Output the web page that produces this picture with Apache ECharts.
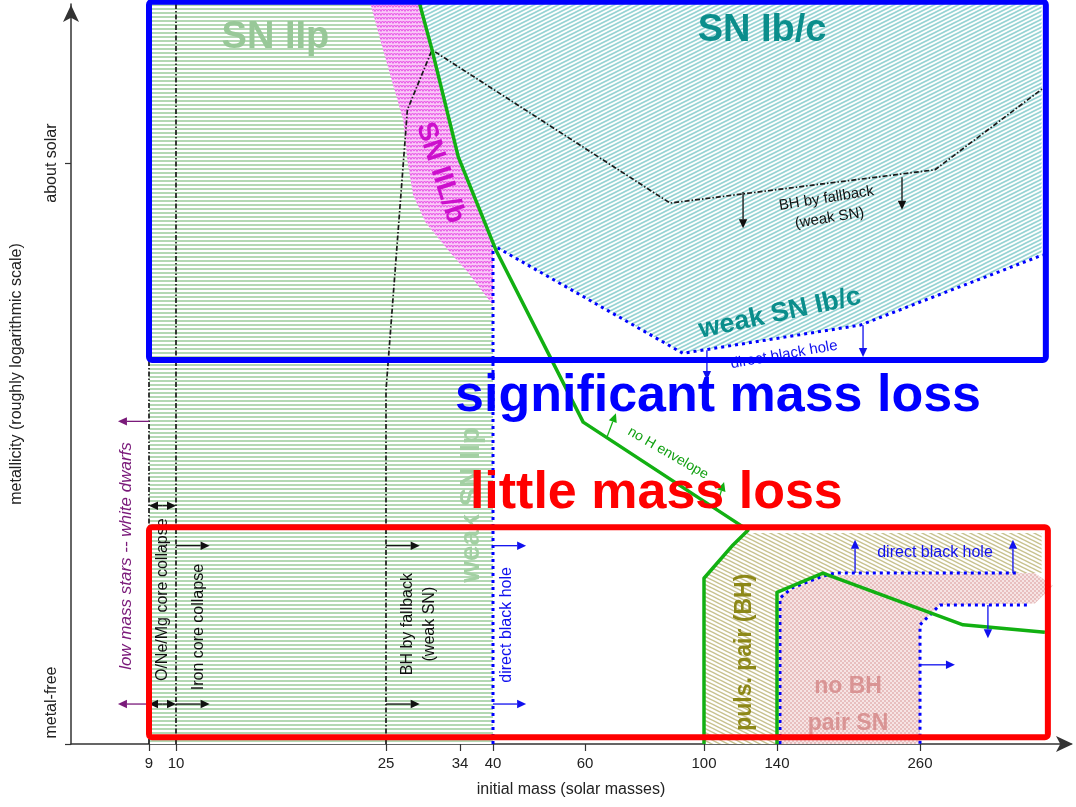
<!DOCTYPE html>
<html>
<head>
<meta charset="utf-8">
<script src="https://cdn.jsdelivr.net/npm/echarts@6/dist/echarts.min.js"></script>
<style>
  html, body { margin: 0; padding: 0; background: #fff; }
  #chart { width: 1076px; height: 807px; }
</style>
</head>
<body>
<div id="chart"></div>
<script>
// ---- Axes -----------------------------------------------------------------
// The mass axis is only roughly logarithmic: each tick mass sits at a fixed
// position on a 0-100 axis scale and masses in between are placed piecewise.
const MASS_TICKS = [9, 10, 25, 34, 40, 60, 100, 140, 260];
const MASS_TICK_POS = [7.8, 10.5, 31.5, 38.9, 42.2, 51.4, 63.3, 70.6, 84.9];
// Metallicity on an arbitrary 0-100 scale
const Z_TICKS = [0, 78.5];
const Z_TICK_LABELS = [{ at: 5.6, text: 'metal-free' }, { at: 78.5, text: 'about solar' }];

// ---- Regions (initial mass, metallicity) ------------------------------------
const SN_IIP_REGION = [[9, 100], [29.1, 100], [30.6, 93.8], [33.8, 79.3], [40, 67.4], [40, 0], [9, 0]];
const SN_IBC_REGION = [[29.1, 100], [362, 100], [362, 66.1], [209.7, 56.6], [92.9, 52.8],
  [40, 67.4], [33.8, 79.3], [30.6, 93.8]];
const SN_IILB_REGION = [[23.9, 100], [24.6, 95.1], [25.7, 89.7], [27.1, 84.3], [27.6, 78.9],
  [28.3, 74.2], [29.8, 70.5], [32.5, 66.8], [35.8, 63.4], [40, 59.3], [40, 67.4],
  [33.8, 79.3], [30.6, 93.8], [29.1, 100]];
const PULS_PAIR_REGION = [[100, 0], [100, 22.4], [115.9, 26.9], [124.1, 28.9], [125.2, 28.5],
  [362, 28.5], [362, 23.1], [178.5, 23.1], [140, 20.5], [140, 0]];
const PAIR_SN_REGION = [[142, 0], [142, 20.1], [178.5, 22.8], [356.4, 23.1], [371.5, 21.4],
  [356.4, 19.0], [276.8, 18.8], [260, 16.1], [260, 0]];

// ---- Boundary lines ---------------------------------------------------------
const NO_H_ENVELOPE_LINE = [[29.1, 100], [30.6, 93.8], [33.8, 79.3], [40.6, 66.8], [59.6, 43.5],
  [124.1, 28.9], [115.9, 26.9], [100, 22.4], [100, 0]];
const PAIR_LINE = [[140, 0], [140, 20.5], [178.5, 23.1], [296.1, 16.1], [364.8, 15.1]];
const DIRECT_BH_LINE = [[40, 0], [40, 67.4], [92.9, 52.8], [209.7, 56.6], [363.1, 66.1]];
const PAIR_TOP_LINE = [[142.5, 0], [142.5, 19.7], [152.6, 21.1], [178.5, 22.7], [188.7, 23.1], [343.5, 23.1]];
const PAIR_BOTTOM_LINE = [[349.7, 18.8], [276.8, 18.8], [260, 16.1], [260, 0]];
const FALLBACK_LINE = [[25, 0], [25, 47.8], [27.6, 85.7], [30.6, 93.8], [88.6, 73.1], [272.6, 77.6], [363.1, 88.6]];
const WD_LIMIT_LINE = [[9, 0], [9, 100]];
const IRON_LIMIT_LINE = [[10, 0], [10, 100]];

// ---- Arrows [from mass, from Z, to mass, to Z] -------------------------------
const BLACK_ARROWS = [
  [121.4, 74.6, 121.4, 69.7], [244.9, 76.6, 244.9, 72.2],
  [10, 26.8, 12.4, 26.8], [10, 5.4, 12.4, 5.4],
  [25, 26.8, 29.1, 26.8], [25, 5.4, 29.1, 5.4],
  [9.5, 32.2, 9, 32.2], [9.5, 32.2, 10, 32.2],
  [9.5, 5.4, 9, 5.4], [9.5, 5.4, 10, 5.4]
];
const PURPLE_ARROWS = [[9, 43.6, 7.85, 43.6], [9, 5.4, 7.85, 5.4]];
const BLUE_ARROWS = [
  [40, 26.8, 47.2, 26.8], [40, 5.4, 47.2, 5.4],
  [101.6, 53.2, 101.6, 49.2], [212.2, 56.6, 212.2, 52.3],
  [205.5, 23.1, 205.5, 27.6], [338, 23.1, 338, 27.6],
  [317, 18.8, 317, 14.3], [260, 10.7, 289.3, 10.7]
];
const GREEN_ARROWS = [[67.4, 41.5, 70.4, 44.7], [106.6, 31.9, 111, 35.4]];

// ---- Mass-loss boxes [mass left, Z bottom, mass right, Z top] ----------------
const MASS_LOSS_BOXES = [
  { box: [9, 51.9, 365.6, 100.3], color: '#0000ff' },
  { box: [9, 0.9, 367.3, 29.3], color: '#ff0000' }
];

// ---- Text ------------------------------------------------------------------
const REGION_LABELS = [
  { text: 'SN IIp', m: 17.1, z: 95.5, kind: 'bigGreen' },
  { text: 'SN Ib/c', m: 131.8, z: 96.4, kind: 'bigTeal' },
  { text: 'SN IIL/b', m: 31.6, z: 77.2, kind: 'magenta' },
  { text: 'weak SN IIp', m: 36, z: 32.3, kind: 'weakIIp' },
  { text: 'weak SN Ib/c', m: 142.5, z: 58.2, kind: 'weakIbc' },
  { text: 'BH by fallback\n(weak SN)', m: 182.8, z: 72.4, kind: 'fallbackTop' },
  { text: 'direct black hole', m: 145.9, z: 52.6, kind: 'dbhSlant' },
  { text: 'no H envelope', m: 87.9, z: 39.3, kind: 'noH' },
  { text: 'low mass stars -- white dwarfs', m: 8.15, z: 25.4, kind: 'wd' },
  { text: 'O/Ne/Mg core collapse', m: 9.52, z: 19.5, kind: 'vertBlack' },
  { text: 'Iron core collapse', m: 11.6, z: 15.8, kind: 'vertBlack' },
  { text: 'BH by fallback\n(weak SN)', m: 29.0, z: 16.2, kind: 'vertBlack' },
  { text: 'direct black hole', m: 43.0, z: 16.1, kind: 'vertBlue' },
  { text: 'direct black hole', m: 272.6, z: 25.8, kind: 'blueFlat' },
  { text: 'puls. pair (BH)', m: 122.5, z: 12.4, kind: 'olive' },
  { text: 'no BH', m: 199.6, z: 7.8, kind: 'pink' },
  { text: 'pair SN', m: 199.6, z: 2.8, kind: 'pink' }
];
const MASS_LOSS_LABELS = [
  { text: 'significant mass loss', m: 33.4, z: 47.0, kind: 'bigBlue' },
  { text: 'little mass loss', m: 35.8, z: 33.8, kind: 'bigRed' }
];

const FONT = '"Liberation Sans", Arial, Helvetica, sans-serif';
const LABEL_STYLES = {
  bigGreen:    { color: '#98c898', size: 38, bold: true },
  bigTeal:     { color: '#0b8e8c', size: 38, bold: true },
  magenta:     { color: '#cc10cc', size: 28, bold: true, rotate: -72 },
  weakIIp:     { color: '#a3d0a3', size: 28, bold: true, rotate: 90 },
  weakIbc:     { color: '#0b8e8c', size: 27, bold: true, rotate: 12 },
  fallbackTop: { color: '#111', size: 15, rotate: 9, lineHeight: 20 },
  dbhSlant:    { color: '#1010ee', size: 15, rotate: 10 },
  noH:         { color: '#10a010', size: 14, rotate: -30 },
  wd:          { color: '#7a1a7a', size: 17, italic: true, rotate: 90 },
  vertBlack:   { color: '#111', size: 16, rotate: 90, lineHeight: 22 },
  vertBlue:    { color: '#1010ee', size: 16, rotate: 90 },
  blueFlat:    { color: '#1010ee', size: 16 },
  olive:       { color: '#8d8818', size: 23, bold: true, rotate: 90 },
  pink:        { color: '#d99494', size: 23, bold: true },
  bigBlue:     { color: '#0000ff', size: 52, bold: true, align: 'left' },
  bigRed:      { color: '#ff0000', size: 52, bold: true, align: 'left' }
};

// ---- Helpers ----------------------------------------------------------------
function massToAxis(m) {
  const n = MASS_TICKS.length;
  let i = 0;
  while (i < n - 2 && m > MASS_TICKS[i + 1]) i++;
  const m0 = MASS_TICKS[i], m1 = MASS_TICKS[i + 1];
  const p0 = MASS_TICK_POS[i], p1 = MASS_TICK_POS[i + 1];
  return p0 + (m - m0) * (p1 - p0) / (m1 - m0);
}
const toAxis = pts => pts.map(([m, z]) => [massToAxis(m), z]);

function tile(w, h, paint) {
  const c = document.createElement('canvas');
  c.width = w; c.height = h;
  const g = c.getContext('2d');
  g.fillStyle = '#fff';
  g.fillRect(0, 0, w, h);
  paint(g, w, h);
  return { image: c, repeat: 'repeat' };
}
const HATCH = {
  iip: tile(4, 4, g => { g.fillStyle = '#b3d8b3'; g.fillRect(0, 0, 4, 2); }),
  ibc: tile(8, 4, g => {
    g.strokeStyle = '#96d3d3'; g.lineWidth = 1.7;
    for (const o of [-4, 0, 4]) { g.beginPath(); g.moveTo(-1, 4.5 + o); g.lineTo(9, -0.5 + o); g.stroke(); }
  }),
  iilb: tile(6, 4, g => {
    g.fillStyle = '#f9c8f7'; g.fillRect(0, 0, 6, 4);
    g.strokeStyle = '#e85ae6'; g.lineWidth = 1.2;
    g.beginPath(); g.moveTo(0, 3); g.quadraticCurveTo(1.5, 0, 3, 3); g.quadraticCurveTo(4.5, 0, 6, 3); g.stroke();
  }),
  puls: tile(8, 4, g => {
    g.strokeStyle = '#c8c290'; g.lineWidth = 1.5;
    for (const o of [-4, 0, 4]) { g.beginPath(); g.moveTo(-1, -0.5 + o); g.lineTo(9, 4.5 + o); g.stroke(); }
  }),
  pair: tile(4, 4, g => {
    g.fillStyle = '#f6e4e4'; g.fillRect(0, 0, 4, 4);
    g.fillStyle = '#e8bfbf'; g.fillRect(0, 0, 2, 2); g.fillRect(2, 2, 2, 2);
  })
};

function areaSeries(name, pts, fill, z) {
  const data = toAxis(pts);
  return {
    type: 'custom', name, z, silent: true, data, encode: { x: 0, y: 1 },
    renderItem(params, api) {
      if (params.dataIndex !== 0) return null;
      return { type: 'polygon', shape: { points: data.map(p => api.coord(p)) }, style: { fill } };
    }
  };
}

function lineSeries(name, pts, lineStyle, z) {
  return {
    type: 'line', name, z, silent: true, data: toAxis(pts),
    showSymbol: false, symbol: 'none', clip: false, lineStyle
  };
}

function arrowSeries(name, arrows, color, z) {
  const data = arrows.map(([m1, z1, m2, z2]) => [massToAxis(m1), z1, massToAxis(m2), z2]);
  return {
    type: 'custom', name, z, silent: true, data, encode: { x: [0, 2], y: [1, 3] },
    renderItem(params, api) {
      const a = api.coord([api.value(0), api.value(1)]);
      const b = api.coord([api.value(2), api.value(3)]);
      const dx = b[0] - a[0], dy = b[1] - a[1];
      const len = Math.hypot(dx, dy) || 1;
      const ux = dx / len, uy = dy / len;
      const hl = 9, hw = 4.2;
      const base = [b[0] - ux * hl, b[1] - uy * hl];
      return {
        type: 'group', children: [
          { type: 'line', shape: { x1: a[0], y1: a[1], x2: base[0], y2: base[1] },
            style: { stroke: color, lineWidth: 1.3 } },
          { type: 'polygon', shape: { points: [b, [base[0] - uy * hw, base[1] + ux * hw], [base[0] + uy * hw, base[1] - ux * hw]] },
            style: { fill: color } }
        ]
      };
    }
  };
}

function boxSeries(name, boxes, z) {
  const data = boxes.map(b => [massToAxis(b.box[0]), b.box[1], massToAxis(b.box[2]), b.box[3]]);
  return {
    type: 'custom', name, z, silent: true, data, encode: { x: [0, 2], y: [1, 3] },
    renderItem(params, api) {
      const p1 = api.coord([api.value(0), api.value(3)]);
      const p2 = api.coord([api.value(2), api.value(1)]);
      return {
        type: 'rect',
        shape: { x: p1[0], y: p1[1], width: p2[0] - p1[0], height: p2[1] - p1[1], r: 3 },
        style: { fill: 'none', stroke: boxes[params.dataIndex].color, lineWidth: 6 }
      };
    }
  };
}

function labelSeries(name, labels, z) {
  const data = labels.map(l => [massToAxis(l.m), l.z]);
  return {
    type: 'custom', name, z, silent: true, data, encode: { x: 0, y: 1 },
    renderItem(params, api) {
      const l = labels[params.dataIndex];
      const s = LABEL_STYLES[l.kind];
      const p = api.coord([api.value(0), api.value(1)]);
      return {
        type: 'text', x: p[0], y: p[1], rotation: (s.rotate || 0) * Math.PI / 180,
        style: {
          text: l.text, fill: s.color, fontSize: s.size, fontFamily: FONT,
          fontWeight: s.bold ? 'bold' : 'normal', fontStyle: s.italic ? 'italic' : 'normal',
          align: s.align || 'center', verticalAlign: 'middle', lineHeight: s.lineHeight || s.size * 1.15
        }
      };
    }
  };
}

const nearestIndex = (arr, v) => arr.reduce((best, a, i) => Math.abs(a - v) < Math.abs(arr[best] - v) ? i : best, 0);

const AXIS_COLOR = '#333';
const dashDot = { color: '#1a1a1a', width: 1.7, type: [5, 2, 1.5, 2] };
const blueDots = { color: '#0000ff', width: 3, type: [3, 4] };
const greenLine = { color: '#12b012', width: 3.5, join: 'round' };

const option = {
  animation: false,
  backgroundColor: '#fff',
  grid: { left: 71, right: 5, top: 4, bottom: 63, containLabel: false },
  xAxis: {
    type: 'value', min: 0, max: 100,
    axisLine: { show: true, onZero: false, symbol: ['none', 'arrow'], symbolSize: [12, 17], symbolOffset: [0, 2],
      lineStyle: { color: AXIS_COLOR, width: 1.5 } },
    axisTick: { show: true, customValues: MASS_TICK_POS, length: 7, lineStyle: { color: AXIS_COLOR, width: 1.2 } },
    axisLabel: { customValues: MASS_TICK_POS, formatter: v => String(MASS_TICKS[nearestIndex(MASS_TICK_POS, v)]),
      margin: 12, fontSize: 15, color: '#222', fontFamily: FONT },
    splitLine: { show: false },
    name: 'initial mass (solar masses)', nameLocation: 'middle', nameGap: 38, nameMoveOverlap: false,
    nameTextStyle: { fontSize: 16, color: '#222', fontFamily: FONT }
  },
  yAxis: {
    type: 'value', min: 0, max: 100,
    axisLine: { show: true, symbol: ['none', 'arrow'], symbolSize: [12, 17], symbolOffset: [0, -1],
      lineStyle: { color: AXIS_COLOR, width: 1.5 } },
    axisTick: { show: true, customValues: Z_TICKS, length: 6, lineStyle: { color: AXIS_COLOR, width: 1.2 } },
    axisLabel: { customValues: Z_TICK_LABELS.map(l => l.at),
      formatter: v => Z_TICK_LABELS[nearestIndex(Z_TICK_LABELS.map(l => l.at), v)].text,
      rotate: 90, margin: 11, fontSize: 16, color: '#222', fontFamily: FONT },
    splitLine: { show: false },
    name: 'metallicity (roughly logarithmic scale)', nameLocation: 'middle', nameGap: 46, nameRotate: 90,
    nameMoveOverlap: false,
    nameTextStyle: { fontSize: 16, color: '#222', fontFamily: FONT }
  },
  series: [
    areaSeries('SN IIp', SN_IIP_REGION, HATCH.iip, 2),
    areaSeries('SN Ib/c', SN_IBC_REGION, HATCH.ibc, 2),
    areaSeries('SN IIL/b', SN_IILB_REGION, HATCH.iilb, 3),
    areaSeries('pulsational pair', PULS_PAIR_REGION, HATCH.puls, 2),
    areaSeries('pair SN', PAIR_SN_REGION, HATCH.pair, 3),

    lineSeries('9 Msun', WD_LIMIT_LINE, dashDot, 4),
    lineSeries('10 Msun', IRON_LIMIT_LINE, dashDot, 4),
    lineSeries('BH by fallback', FALLBACK_LINE, dashDot, 4),
    lineSeries('direct black hole', DIRECT_BH_LINE, blueDots, 5),
    lineSeries('pair top', PAIR_TOP_LINE, blueDots, 5),
    lineSeries('pair bottom', PAIR_BOTTOM_LINE, blueDots, 5),
    lineSeries('no H envelope', NO_H_ENVELOPE_LINE, greenLine, 6),
    lineSeries('pair boundary', PAIR_LINE, greenLine, 6),

    arrowSeries('black arrows', BLACK_ARROWS, '#111', 7),
    arrowSeries('purple arrows', PURPLE_ARROWS, '#7a1a7a', 7),
    arrowSeries('blue arrows', BLUE_ARROWS, '#1010ee', 7),
    arrowSeries('green arrows', GREEN_ARROWS, '#12b012', 7),

    labelSeries('region labels', REGION_LABELS, 8),
    boxSeries('mass loss boxes', MASS_LOSS_BOXES, 9),
    labelSeries('mass loss labels', MASS_LOSS_LABELS, 10)
  ]
};

const chart = echarts.init(document.getElementById('chart'), null, { renderer: 'canvas' });
chart.setOption(option);
</script>
</body>
</html>
